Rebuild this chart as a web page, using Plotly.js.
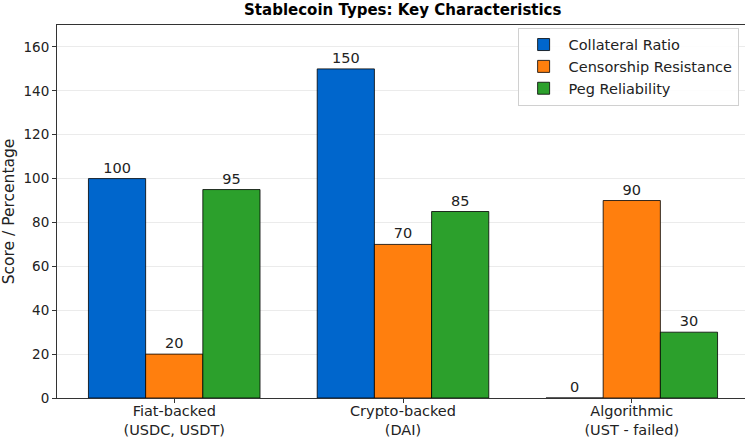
<!DOCTYPE html>
<html><head><meta charset="utf-8">
<script src="https://cdn.plot.ly/plotly-3.0.1.min.js"></script>
<style>html,body{margin:0;padding:0;overflow:hidden;background:#fff}</style>
</head><body>
<div id="chart" style="width:750px;height:437px"></div>
<script>
const categories = ["Fiat-backed<br>(USDC, USDT)", "Crypto-backed<br>(DAI)", "Algorithmic<br>(UST - failed)"];
const collateralRatio = [100, 150, 0];
const censorshipResistance = [20, 70, 90];
const pegReliability = [95, 85, 30];
const seriesNames = ["Collateral Ratio", "Censorship Resistance", "Peg Reliability"];
const seriesColors = ["#0066CC", "#FF7F0E", "#2CA02C"];
const seriesValues = [collateralRatio, censorshipResistance, pegReliability];

const font = "DejaVu Sans, sans-serif";
const traces = seriesValues.map((vals, i) => ({
  type: "bar",
  name: seriesNames[i],
  x: categories,
  y: vals,
  marker: {color: seriesColors[i], line: {color: "#000", width: 0.8}},
  text: vals.map(String),
  textposition: "outside",
  textfont: {family: font, size: 14.5, color: "#222"},
  cliponaxis: false
}));

const layout = {
  width: 750, height: 437,
  margin: {l: 57, r: 1, t: 25, b: 39},
  paper_bgcolor: "#fff", plot_bgcolor: "#fff",
  font: {family: font, size: 14, color: "#222"},
  title: {text: "<b>Stablecoin Types: Key Characteristics</b>", font: {family: font, size: 15, color: "#000"}, x: 0.537, xanchor: "center", y: 0.977, yanchor: "middle"},
  barmode: "group", bargap: 0.25, bargroupgap: 0,
  xaxis: {range: [-0.5125, 2.5125], showline: true, mirror: true, linecolor: "#333", linewidth: 1,
    ticks: "outside", ticklen: 4, tickcolor: "#333", showgrid: false,
    tickfont: {size: 14.5, color: "#222"}, ticklabelstandoff: -4},
  yaxis: {range: [0, 170], dtick: 20, showline: true, mirror: true, linecolor: "#333", linewidth: 1,
    ticks: "outside", ticklen: 4, tickcolor: "#333", showgrid: true, gridcolor: "#ebebeb", gridwidth: 1,
    zeroline: false, tickfont: {size: 13.5},
    title: {text: "Score / Percentage", font: {size: 15.5}, standoff: 8}},
  legend: {x: 0.985, xanchor: "right", y: 0.993, yanchor: "top", bgcolor: "rgba(255,255,255,0.9)",
    bordercolor: "#d0d0d0", borderwidth: 1, font: {size: 14.5}, tracegroupgap: 0, itemwidth: 40},
  showlegend: true
};
Plotly.newPlot("chart", traces, layout, {displayModeBar: false, staticPlot: true});
</script>
</body></html>
